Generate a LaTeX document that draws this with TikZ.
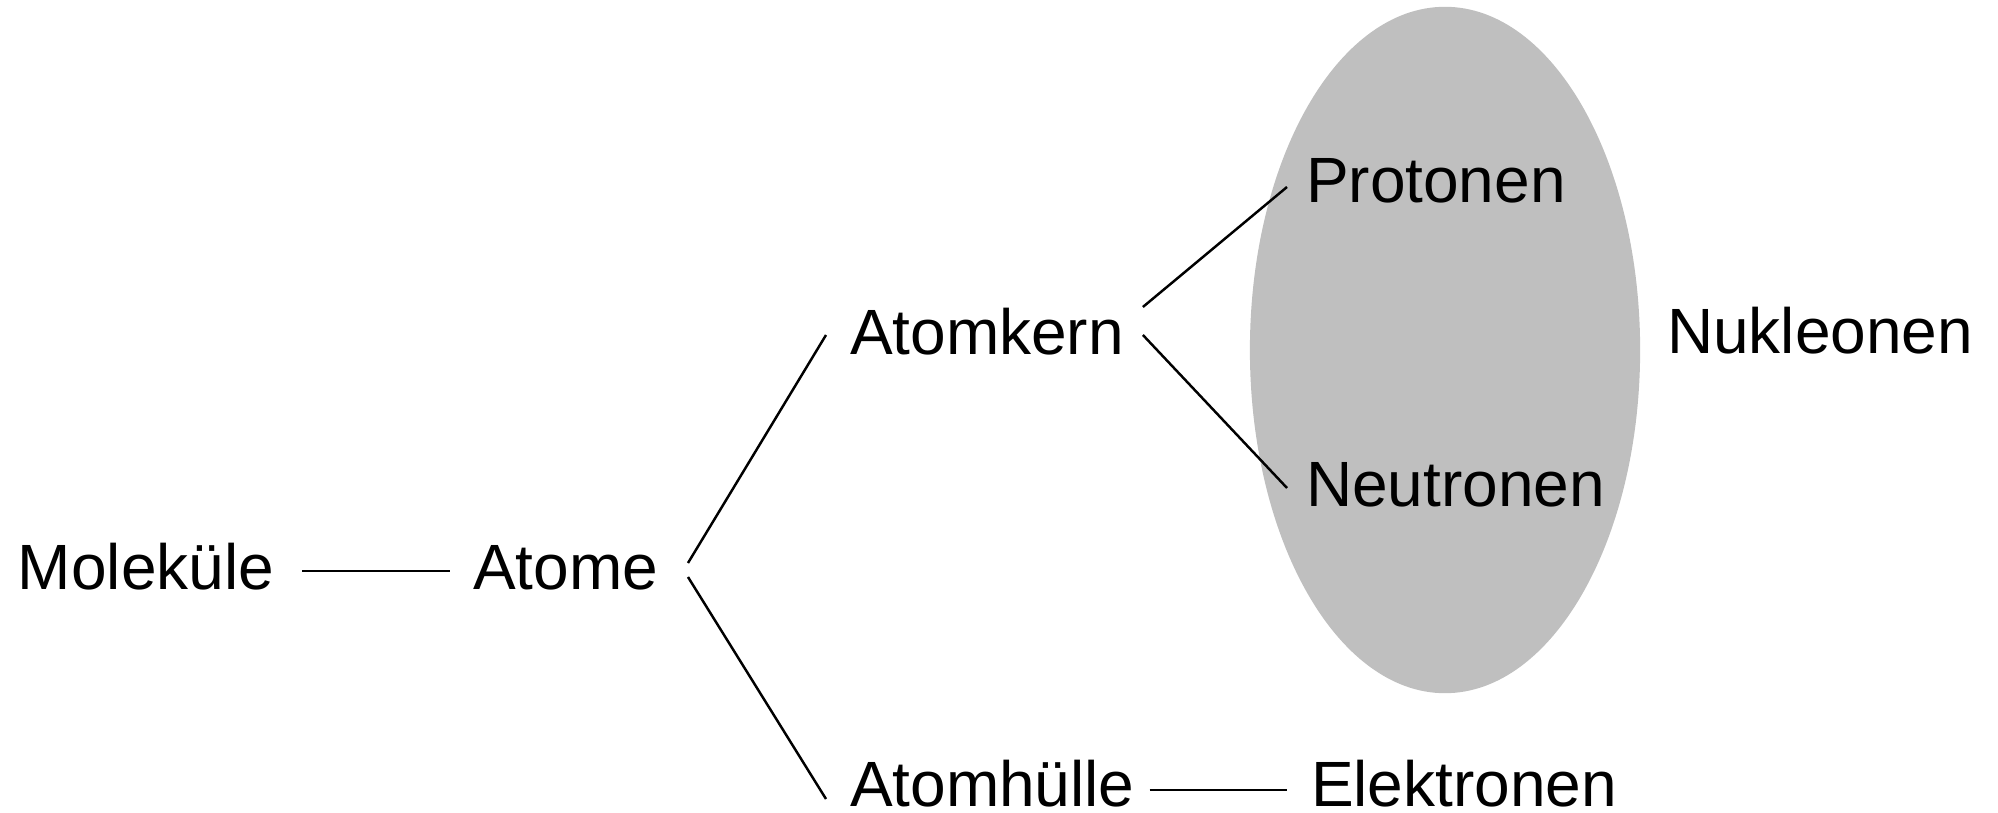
\documentclass[tikz,border=0pt]{standalone}
\usepackage{fontspec}
\setmainfont{Liberation Sans}
\usetikzlibrary{calc,shapes.geometric}
\definecolor{nucgray}{RGB}{191,191,191}
\tikzset{
  lbl/.style={anchor=base west, inner sep=0pt, outer sep=0pt, font=\fontsize{18.2pt}{21pt}\selectfont},
  conn/.style={draw=black, line width=0.7pt},
  nuc/.style={ellipse, fill=nucgray, draw=none, minimum width=3.9cm, minimum height=6.86cm, inner sep=0pt}
}
\begin{document}
\begin{tikzpicture}[x=0.01cm, y=-0.01cm]
\useasboundingbox (0,0) rectangle (1998,813);
\node[nuc] (ell) at (1445,350) {};
\node[lbl] (mol) at (18,589) {Moleküle};
\node[lbl] (atome) at (473,589) {Atome};
\node[lbl] (kern) at (850,355) {Atomkern};
\node[lbl] (huelle) at (850,806) {Atomhülle};
\node[lbl] (elek) at (1311,806) {Elektronen};
\node[lbl] (prot) at (1306,203) {Protonen};
\node[lbl] (neut) at (1306,506) {Neutronen};
\node[lbl] (nukl) at (1667,354) {Nukleonen};
\draw[conn] ($(mol.base east)+(28,-18)$) -- ($(atome.base west)+(-23,-18)$);
\draw[conn] ($(atome.base east)+(30,-26)$) -- ($(kern.base west)+(-24,-20)$);
\draw[conn] ($(atome.base east)+(30,-12)$) -- ($(huelle.base west)+(-24,-7)$);
\draw[conn] ($(huelle.base east)+(15,-16)$) -- ($(elek.base west)+(-24,-16)$);
\draw[conn] ($(kern.base east)+(19,-48)$) -- ($(prot.base west)+(-19,-16)$);
\draw[conn] ($(kern.base east)+(19,-20)$) -- ($(neut.base west)+(-19,-18)$);
\end{tikzpicture}
\end{document}
